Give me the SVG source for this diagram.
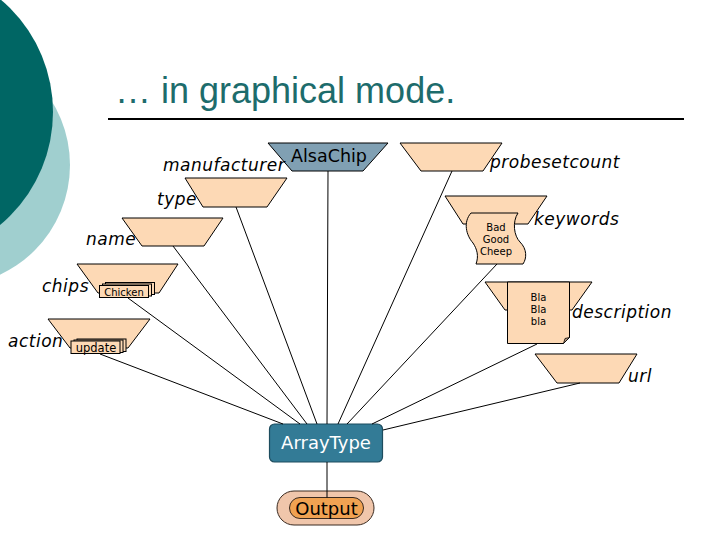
<svg xmlns="http://www.w3.org/2000/svg" width="720" height="540" viewBox="0 0 720 540">
<style>
.bg{fill:#ffffff}
.trap{fill:#fdd9b5;stroke:#000;stroke-width:1}
.card{fill:#fdd9b5;stroke:#000;stroke-width:1}
.lbl{font-family:"DejaVu Sans",Verdana,sans-serif;font-style:italic;font-size:17px;letter-spacing:0.5px;fill:#000}
.small{font-family:"DejaVu Sans",Verdana,sans-serif;font-size:10px;fill:#000}
.conn line{stroke:#000;stroke-width:1}
</style>
<rect class="bg" x="0" y="0" width="720" height="540"/>
<circle cx="-51" cy="165" r="121" fill="#a0cfcf"/>
<circle cx="-94" cy="112" r="147" fill="#006664"/>
<text x="115" y="103" font-family="Liberation Sans, Arial, sans-serif" font-size="36" fill="#1d6c6c">… in graphical mode.</text>
<line x1="108" y1="119" x2="684" y2="119" stroke="#000" stroke-width="2"/>

<g id="alsachip">
<polygon points="268,143 388,143 363,171 292,171" fill="#80a0b3" stroke="#000" stroke-width="1"/>
<text x="329" y="161.5" text-anchor="middle" font-family="DejaVu Sans, Verdana, sans-serif" font-size="17.5" fill="#000">AlsaChip</text>
</g>
<g id="manufacturer">
<text class="lbl" x="163" y="171">manufacturer</text>
</g>
<g id="probesetcount">
<polygon class="trap" points="400,143 502,143 483,171 421,171"/>
<text class="lbl" x="490" y="168">probesetcount</text>
</g>
<g id="type">
<polygon class="trap" points="185,178 287,178 267,207 203,207"/>
<text class="lbl" x="157" y="205">type</text>
</g>
<g id="name">
<polygon class="trap" points="122,218 223,218 204,246 142,246"/>
<text class="lbl" x="86" y="245">name</text>
</g>
<g id="chips">
<polygon class="trap" points="77,264 178,264 159,293 98,293"/>
<rect class="card" x="105.5" y="282.5" width="49" height="12"/>
<rect class="card" x="102.5" y="284" width="49" height="12"/>
<rect class="card" x="99.5" y="285.5" width="49" height="12"/>
<text class="small" x="124" y="295.5" text-anchor="middle">Chicken</text>
<text class="lbl" x="42" y="292">chips</text>
</g>
<g id="action">
<polygon class="trap" points="48,319 150,319 128,348 70,348"/>
<rect class="card" x="77" y="339" width="49" height="12.5"/>
<rect class="card" x="74" y="340" width="49" height="12.5"/>
<rect class="card" x="71" y="341" width="49" height="12.5"/>
<text x="96" y="351.5" text-anchor="middle" font-family="DejaVu Sans, Verdana, sans-serif" font-size="11.5" fill="#000">update</text>
<text class="lbl" x="8" y="347">action</text>
</g>
<g id="keywords">
<polygon class="trap" points="445,196 547,196 528,224 463,224"/>
<path class="card" d="M471,213 L518,213 C512,222 514,236 520,242 C527,249 527,258 523,264 L476,264 C479,256 477,249 473,243 C466,235 463,222 471,213 Z"/>
<text class="small" x="496" y="231" text-anchor="middle">Bad</text>
<text class="small" x="496" y="243" text-anchor="middle">Good</text>
<text class="small" x="496" y="255" text-anchor="middle">Cheep</text>
<text class="lbl" x="534" y="225">keywords</text>
</g>
<g id="description">
<polygon class="trap" points="485,282 592,282 572,310 505,310"/>
<path class="card" d="M507.5,282 H569.5 V337.5 L563.5,343.5 H507.5 Z"/>
<path d="M569.5,337.5 L563.5,343.5 L565,338.5 Z" fill="#b89a80" stroke="#000" stroke-width="0.8"/>
<text class="small" x="538.5" y="301" text-anchor="middle">Bla</text>
<text class="small" x="538.5" y="313" text-anchor="middle">Bla</text>
<text class="small" x="538.5" y="325" text-anchor="middle">bla</text>
<text class="lbl" x="572" y="318">description</text>
</g>
<g id="url">
<polygon class="trap" points="535,354 637,354 619,383 557,383"/>
<text class="lbl" x="628" y="382">url</text>
</g>
<g id="arraytype">
<rect x="269.5" y="424" width="113" height="38" rx="5" fill="#337b96" stroke="#1d4c5e" stroke-width="1.2"/>
<text x="326" y="449" text-anchor="middle" font-family="DejaVu Sans, Verdana, sans-serif" font-size="18" fill="#ffffff">ArrayType</text>
</g>
<g id="output">
<rect x="277" y="491" width="97" height="34" rx="17" fill="#f0c6ab" stroke="#3a2a20" stroke-width="1"/>
<rect x="289.5" y="497.5" width="74" height="21" rx="10.5" fill="#f0a252" stroke="#3a2a20" stroke-width="1"/>
<text x="326.5" y="514.5" text-anchor="middle" font-family="DejaVu Sans, Verdana, sans-serif" font-size="18" fill="#000">Output</text>
</g>
<g id="connectors" class="conn">
<line x1="328" y1="171" x2="327" y2="424"/>
<line x1="452" y1="171" x2="338" y2="424"/>
<line x1="236" y1="207" x2="317" y2="424"/>
<line x1="173" y1="246" x2="307" y2="424"/>
<line x1="128" y1="298" x2="300" y2="424"/>
<line x1="100" y1="354" x2="283" y2="424"/>
<line x1="497" y1="264" x2="347" y2="424"/>
<line x1="537" y1="344" x2="372" y2="424"/>
<line x1="580" y1="383" x2="383" y2="430"/>
<line x1="327" y1="462" x2="327" y2="497.5"/>
</g>
</svg>
